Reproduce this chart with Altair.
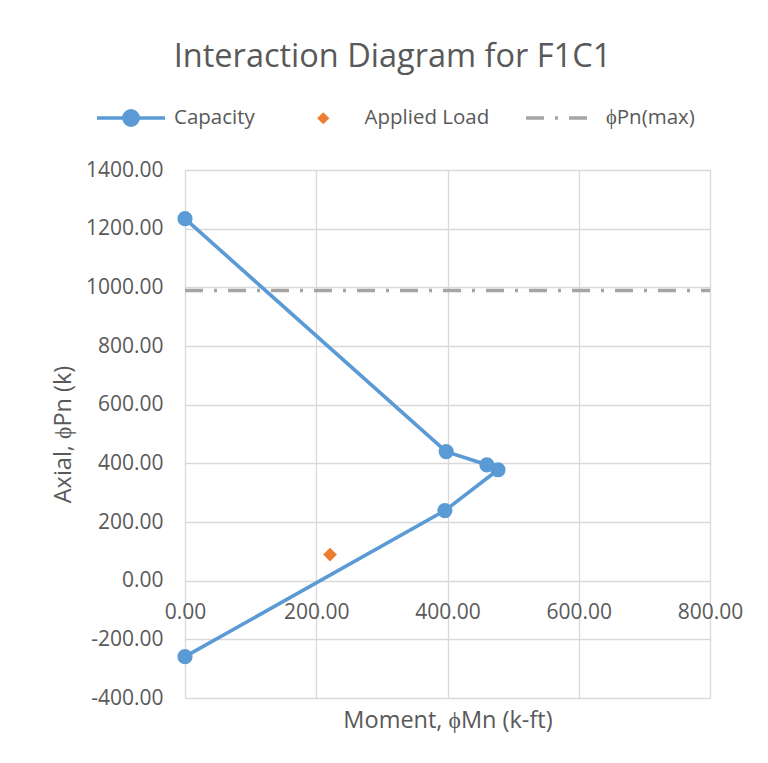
import altair as alt
import pandas as pd

# ---- data ----
cap_moment = [0, 398, 460, 477, 396, 0]
cap_axial = [1234, 440, 395, 378, 239, -259]
load_moment = [221]
load_axial = [89]
pmax_moment = [0, 800]
pmax_axial = [989, 989]

series = ["Capacity", "Applied Load", "\u03d5Pn(max)"]
colors = ["#5B9BD5", "#ED7D31", "#A5A5A5"]
x_ticks = [0, 200, 400, 600, 800]
y_ticks = [-400, -200, 0, 200, 400, 600, 800, 1000, 1200, 1400]

cap_df = pd.DataFrame({"m": cap_moment, "p": cap_axial, "order": list(range(len(cap_moment))), "s": series[0]})
load_df = pd.DataFrame({"m": load_moment, "p": load_axial, "s": series[1]})
pmax_df = pd.DataFrame({"m": pmax_moment, "p": pmax_axial, "s": series[2]})

FONT = "Open Sans"
TXT = "#595959"
GRID = "#D9D9D9"

label_expr = "(datum.value < 0 ? '-' : '') + format(abs(datum.value), '.2f')"

x_enc = alt.X(
    "m:Q",
    scale=alt.Scale(domain=[0, 800], nice=False, zero=False),
    axis=alt.Axis(
        values=x_ticks, labelExpr=label_expr, title="Moment, \u03d5Mn (k-ft)",
        offset=-117.3, domain=False, ticks=False, labelPadding=21,
        labelFlush=False, labelOverlap=False,
        labelFontSize=21, labelColor=TXT, labelFont=FONT,
        titleFontSize=23.5, titleColor=TXT, titleFont=FONT, titleFontWeight="normal",
        titleY=140, titleBaseline="middle", gridColor=GRID, gridWidth=1.3,
    ),
)
y_enc = alt.Y(
    "p:Q",
    scale=alt.Scale(domain=[-400, 1400], nice=False, zero=False),
    axis=alt.Axis(
        values=y_ticks, labelExpr=label_expr, title="Axial, \u03d5Pn (k)",
        domain=False, ticks=False, labelPadding=22, labelOverlap=False,
        labelFontSize=21, labelColor=TXT, labelFont=FONT,
        titleFontSize=23.5, titleColor=TXT, titleFont=FONT, titleFontWeight="normal",
        titleX=-122, titleY=264, titleBaseline="middle", titleAlign="center",
        gridColor=GRID, gridWidth=1.3,
    ),
)

common_legend = dict(title=None, orient="none", direction="horizontal",
                     labelFontSize=20.5, labelColor=TXT, labelFont=FONT, padding=0)

cap_color = alt.Color(
    "s:N", scale=alt.Scale(domain=[series[0]], range=[colors[0]]),
    legend=alt.Legend(
        legendX=-90, legendY=-88,
        symbolType="M-1,0H1M0.21,0A0.21,0.21 0 1,1 -0.21,0A0.21,0.21 0 1,1 0.21,0Z",
        symbolSize=4624, symbolFillColor=colors[0], symbolStrokeColor=colors[0],
        symbolStrokeWidth=3.5, symbolOpacity=1, labelOffset=7, **common_legend,
    ),
)
load_shape = alt.Shape(
    "s:N", scale=alt.Scale(domain=[series[1]], range=["diamond"]),
    legend=alt.Legend(
        legendX=128, legendY=-62, symbolSize=150, symbolFillColor=colors[1],
        symbolStrokeColor=colors[1], symbolStrokeWidth=0, symbolOpacity=1,
        labelOffset=31, **common_legend,
    ),
)
pmax_dash = alt.StrokeDash(
    "s:N", scale=alt.Scale(domain=[series[2]], range=[[18, 11, 3, 11]]),
    legend=alt.Legend(
        legendX=339, legendY=-88, symbolType="M-1,0H1", symbolSize=4624,
        symbolStrokeColor=colors[2], symbolStrokeWidth=3.5, symbolOpacity=1,
        symbolFillColor="transparent", labelOffset=10, **common_legend,
    ),
)

pmax_layer = alt.Chart(pmax_df).mark_line(strokeWidth=3.5, color=colors[2]).encode(
    x=x_enc, y=y_enc, strokeDash=pmax_dash
)
cap_pts = alt.Chart(cap_df).mark_point(filled=True, size=230, opacity=1, shape="circle").encode(
    x=x_enc, y=y_enc, color=cap_color
)
cap_line = alt.Chart(cap_df).mark_line(strokeWidth=3.6).encode(
    x=x_enc, y=y_enc, order="order:Q", color=cap_color
)
load_pts = alt.Chart(load_df).mark_point(filled=True, size=190, opacity=1, color=colors[1]).encode(
    x=x_enc, y=y_enc, shape=load_shape
)

chart = (
    alt.layer(pmax_layer, cap_line, cap_pts, load_pts)
    .properties(
        width=525, height=528,
        autosize=alt.AutoSizeParams(type="none"),
        padding={"left": 177, "top": 162, "right": 50, "bottom": 50},
        title=alt.TitleParams(
            "Interaction Diagram for F1C1", anchor="middle", dx=-55, offset=9,
            fontSize=32.5, font=FONT, fontWeight="normal", color=TXT,
        ),
    )
    .configure_view(stroke=None)
    .configure(background="white")
)

chart.save("out.html", embed_options={"renderer": "svg", "actions": False})
